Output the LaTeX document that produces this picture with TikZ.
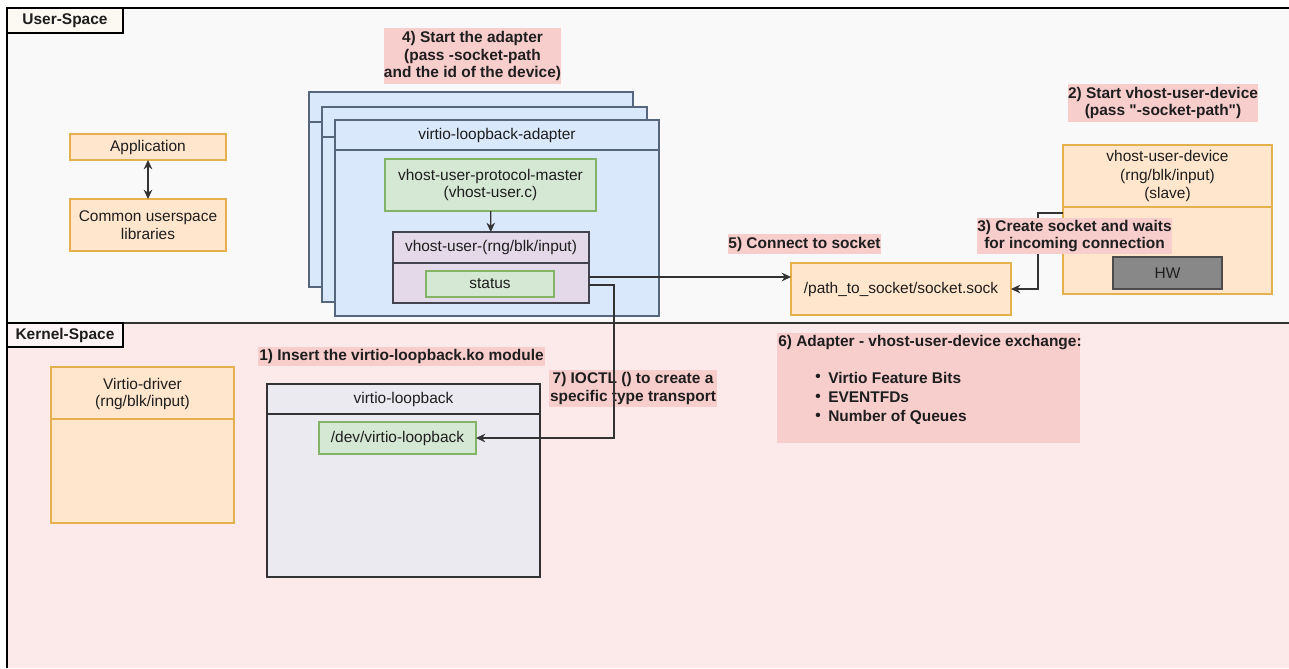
\documentclass[tikz,border=0pt]{standalone}
\usepackage{fontspec}
\setmainfont{Liberation Sans}[Ligatures=TeXOff]
\usetikzlibrary{arrows.meta,calc}
\definecolor{usbg}{HTML}{F9F9F9}
\definecolor{ksbg}{HTML}{FCE9E9}
\definecolor{orgF}{HTML}{FFE6CC}
\definecolor{orgD}{HTML}{E5B14E}
\definecolor{bluF}{HTML}{DAE8FC}
\definecolor{bluD}{HTML}{56667C}
\definecolor{grnF}{HTML}{D5E8D4}
\definecolor{grnD}{HTML}{82B366}
\definecolor{purF}{HTML}{E3D9E9}
\definecolor{purD}{HTML}{444450}
\definecolor{lavF}{HTML}{ECEAF1}
\definecolor{pnkF}{HTML}{F8CECC}
\definecolor{hwF}{HTML}{888888}
\definecolor{txtC}{HTML}{1E1E1E}
\definecolor{lnC}{HTML}{333333}
\definecolor{uslbl}{HTML}{FCF8F2}
\definecolor{kslbl}{HTML}{FDF5F5}
\newcommand\mainfs{\fontsize{11.6}{13.4}\selectfont}
% \bx{style}{name}{x1}{y1}{x2}{y2}{text}
\newcommand\bx[7]{\node[#1, minimum width={(#5-#3)*0.75pt}, minimum height={(#6-#4)*0.75pt}] (#2) at ({(#3+#5)/2},{(#4+#6)/2}) {#7};}
\begin{document}
\begin{tikzpicture}[x=0.75pt,y=-0.75pt,
 rbox/.style={inner sep=0pt, outer sep=0pt, font=\mainfs, text=txtC, align=center, line width=0.8pt},
 orangebox/.style={rbox, draw=orgD, fill=orgF},
 bluebox/.style={rbox, draw=bluD, fill=bluF},
 greenbox/.style={rbox, draw=grnD, fill=grnF},
 purbox/.style={rbox, draw=purD, fill=purF},
 lavbox/.style={rbox, draw=lnC, fill=lavF},
 hwbox/.style={rbox, draw=black!70, fill=hwF, line width=1pt},
 pinklbl/.style={rbox, fill=pnkF, font=\mainfs\bfseries},
 area/.style={rbox, draw=black, line width=0.9pt, font=\mainfs\bfseries},
 txt/.style={inner sep=0pt, font=\mainfs, text=txtC, align=center},
 btxt/.style={txt, font=\mainfs\bfseries},
 conn/.style={draw=lnC, line width=0.9pt, -{Stealth[length=7pt,width=6.5pt]}},
]
\useasboundingbox (0,0) rectangle (1289,668);
\fill[white] (0,0) rectangle (1289,668);
% areas
\fill[usbg] (7,8) rectangle (1289,323);
\fill[ksbg] (7,323) rectangle (1289,668);
\draw[black, line width=0.9pt] (1289,8) -- (7,8) -- (7,668);
\draw[black!80, line width=0.9pt] (7,323) -- (1289,323);
\bx{area, fill=uslbl}{us}{7}{8}{123}{33}{User-Space}
\bx{area, fill=kslbl}{ks}{7}{323}{123}{347}{Kernel-Space}

% user space left
\bx{orangebox}{app}{70}{134}{226}{160}{Application}
\bx{orangebox}{lib}{70}{199}{226}{251}{Common userspace\\libraries}
\draw[lnC, line width=0.9pt, {Stealth[length=7pt,width=6.5pt]}-{Stealth[length=7pt,width=6.5pt]}] (app) -- (lib);

% adapters
\bx{bluebox}{ad1}{309}{92}{633}{287}{}
\draw[bluD, line width=0.8pt] (309,122) -- (633,122);
\bx{bluebox}{ad2}{322}{107}{647}{302}{}
\draw[bluD, line width=0.8pt] (322,137) -- (647,137);
\bx{bluebox}{ad3}{335}{120}{659}{316}{}
\draw[bluD, line width=0.8pt] (335,150) -- (659,150);
\node[txt] (adt) at (497,135) {virtio-loopback-adapter};
\bx{greenbox}{master}{385}{159}{596}{211}{vhost-user-protocol-master\\(vhost-user.c)}
\bx{purbox}{vu}{393}{232}{589}{303}{}
\draw[purD, line width=0.8pt] (393,263) -- (589,263);
\node[txt] (vut) at (491,247.5) {vhost-user-(rng/blk/input)};
\bx{greenbox}{status}{426}{271}{554}{297}{status}
\draw[conn] (master) -- (vu);

% socket and device
\bx{orangebox}{sock}{791}{263}{1011}{315}{/path\_to\_socket/socket.sock}
\bx{orangebox}{vud}{1063}{145}{1272}{294}{}
\draw[orgD, line width=0.8pt] (1063,207) -- (1272,207);
\node[txt, font=\fontsize{11.6}{13.8}\selectfont] (vudt) at (1167.5,176) {vhost-user-device\\(rng/blk/input)\\(slave)};
\bx{hwbox}{hw}{1113}{257}{1222}{289}{HW}

% kernel
\bx{orangebox}{vd}{51}{367}{234}{523}{}
\draw[orgD, line width=0.8pt] (51,419) -- (234,419);
\node[txt] (vdt) at (142.5,394) {Virtio-driver\\(rng/blk/input)};
\bx{lavbox}{vl}{267}{384}{540}{577}{}
\draw[lnC, line width=0.8pt] (267,414) -- (540,414);
\node[txt] (vlt) at (403.5,399) {virtio-loopback};
\bx{greenbox}{dev}{319}{422}{476}{454}{/dev/virtio-loopback}

% labels
\bx{pinklbl}{l4}{384}{28}{561}{84}{4) Start the adapter\\(pass -socket-path\\and the id of the device)}
\bx{pinklbl}{l2}{1068}{84}{1258}{122}{2) Start vhost-user-device\\(pass "-socket-path")}
\bx{pinklbl}{l5}{728}{234}{881}{254}{5) Connect to socket}
\bx{pinklbl}{l1}{258}{347}{545}{366}{1) Insert the virtio-loopback.ko module}
\bx{pinklbl}{l7}{549}{370}{717}{407}{7) IOCTL () to create a\\specific type transport}
\bx{pinklbl}{l6}{777}{333}{1080}{443}{}
\node[btxt, anchor=west] (l6t) at (778,343) {6) Adapter - vhost-user-device exchange:};
\node[btxt] (b1) at (818,378) {•};
\node[btxt] (b2) at (818,397.5) {•};
\node[btxt] (b3) at (818,417) {•};
\node[btxt, anchor=west] (i1) at (828,378) {Virtio Feature Bits};
\node[btxt, anchor=west] (i2) at (828,397.5) {EVENTFDs};
\node[btxt, anchor=west] (i3) at (828,417) {Number of Queues};

% connectors
\coordinate (c277) at (0,277);
\draw[conn] (vu.east |- c277) -- (sock.west |- c277);
\coordinate (k1) at (614,285);
\draw[conn] (vu.east |- k1) -- (k1) |- (dev.east);
\coordinate (k2) at (1038,213);
\draw[conn] (vud.west |- k2) -- (k2) |- (sock.east);
\bx{pinklbl}{l3}{977}{218}{1172}{254}{3) Create socket and waits\\for incoming connection}
\end{tikzpicture}
\end{document}
